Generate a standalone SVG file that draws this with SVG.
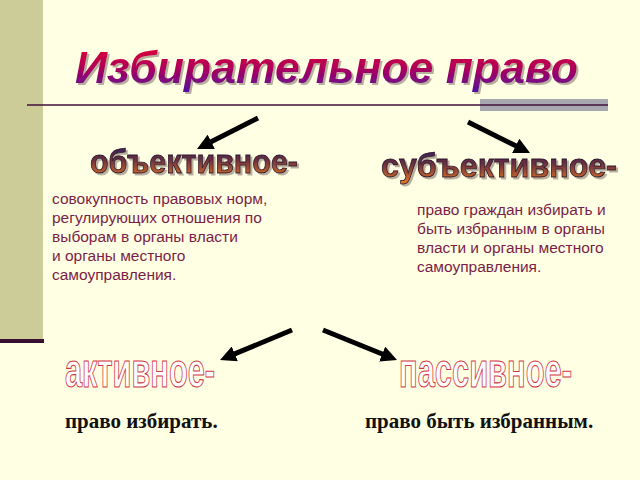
<svg xmlns="http://www.w3.org/2000/svg" width="640" height="480" viewBox="0 0 640 480">
  <defs>
    <linearGradient id="gTitle" x1="0" y1="0" x2="0" y2="1">
      <stop offset="0" stop-color="#E8002E"/>
      <stop offset="0.5" stop-color="#B0005A"/>
      <stop offset="1" stop-color="#5010A0"/>
    </linearGradient>
    <linearGradient id="gSub" x1="0" y1="0" x2="0" y2="1">
      <stop offset="0" stop-color="#2A1E60"/>
      <stop offset="0.45" stop-color="#6A3040"/>
      <stop offset="1" stop-color="#F07A20"/>
    </linearGradient>
    <filter id="shadow" x="-5%" y="-20%" width="110%" height="140%">
      <feDropShadow dx="2" dy="2" stdDeviation="0.6" flood-color="#8A7A70" flood-opacity="0.6"/>
    </filter>
    <marker id="ah" viewBox="0 0 16 16" refX="4" refY="8" markerWidth="16" markerHeight="16" markerUnits="userSpaceOnUse" orient="auto">
      <path d="M0,0 L16,8 L0,16 z" fill="#000"/>
    </marker>
  </defs>
  <style>
    .title { font-family: "Liberation Sans", Arial, sans-serif; font-weight: bold; font-style: italic; font-size: 45px; fill: url(#gTitle); filter: url(#shadow); }
    .sub { font-family: "Liberation Sans", Arial, sans-serif; font-weight: 900; font-size: 33px; fill: url(#gSub); stroke: #2A1428; stroke-width: 0.8; filter: url(#shadow); }
    .body { font-family: "Liberation Sans", Arial, sans-serif; font-size: 15.5px; fill: #7A1E48; }
    .outline { font-family: "Liberation Sans", Arial, sans-serif; font-weight: bold; font-size: 30px; fill: #FFFFFF; stroke: #D03848; stroke-width: 0.7; }
    .def { font-family: "Liberation Serif", "Times New Roman", serif; font-weight: bold; font-size: 21px; fill: #111; }
    .arrow { stroke: #000; stroke-width: 5; fill: none; marker-end: url(#ah); }
  </style>
  <rect x="0" y="0" width="640" height="480" fill="#FFFFE3"/>
  <rect x="0" y="0" width="43" height="339" fill="#CCCC99"/>
  <rect x="0" y="339" width="44" height="4" fill="#3A1030"/>
  <rect x="480" y="99" width="128" height="12" fill="#A8A8B0"/>
  <line x1="27" y1="105" x2="608" y2="105" stroke="#40103A" stroke-width="1.5"/>

  <g id="title">
    <text class="title" x="75" y="83" textLength="503" lengthAdjust="spacingAndGlyphs">Избирательное право</text>
  </g>

  <g id="objective">
    <text class="sub" x="90" y="173" textLength="208" lengthAdjust="spacingAndGlyphs">объективное-</text>
    <text class="body">
      <tspan x="52" y="204">совокупность правовых норм,</tspan>
      <tspan x="52" y="223">регулирующих отношения по</tspan>
      <tspan x="52" y="242">выборам в органы власти</tspan>
      <tspan x="52" y="261">и органы местного</tspan>
      <tspan x="52" y="280">самоуправления.</tspan>
    </text>
  </g>

  <g id="subjective">
    <text class="sub" x="381" y="177" textLength="236" lengthAdjust="spacingAndGlyphs">субъективное-</text>
    <text class="body">
      <tspan x="417" y="215">право граждан избирать и</tspan>
      <tspan x="417" y="234">быть избранным в органы</tspan>
      <tspan x="417" y="253">власти и органы местного</tspan>
      <tspan x="417" y="272">самоуправления.</tspan>
    </text>
  </g>

  <g id="active">
    <g transform="translate(65,387) scale(1,1.6)">
      <text class="outline" x="0" y="0" textLength="150" lengthAdjust="spacingAndGlyphs">активное-</text>
    </g>
    <text class="def" x="65" y="428">право избирать.</text>
  </g>

  <g id="passive">
    <g transform="translate(399,387) scale(1,1.6)">
      <text class="outline" x="0" y="0" textLength="173" lengthAdjust="spacingAndGlyphs">пассивное-</text>
    </g>
    <text class="def" x="365" y="428">право быть избранным.</text>
  </g>

  <g id="connectors">
    <line class="arrow" x1="258" y1="118" x2="207.7" y2="143.6"/>
    <line class="arrow" x1="468" y1="122" x2="519.3" y2="147.6"/>
    <line class="arrow" x1="292" y1="330" x2="231.1" y2="355.4"/>
    <line class="arrow" x1="323" y1="330" x2="385.9" y2="355.5"/>
  </g>
</svg>
